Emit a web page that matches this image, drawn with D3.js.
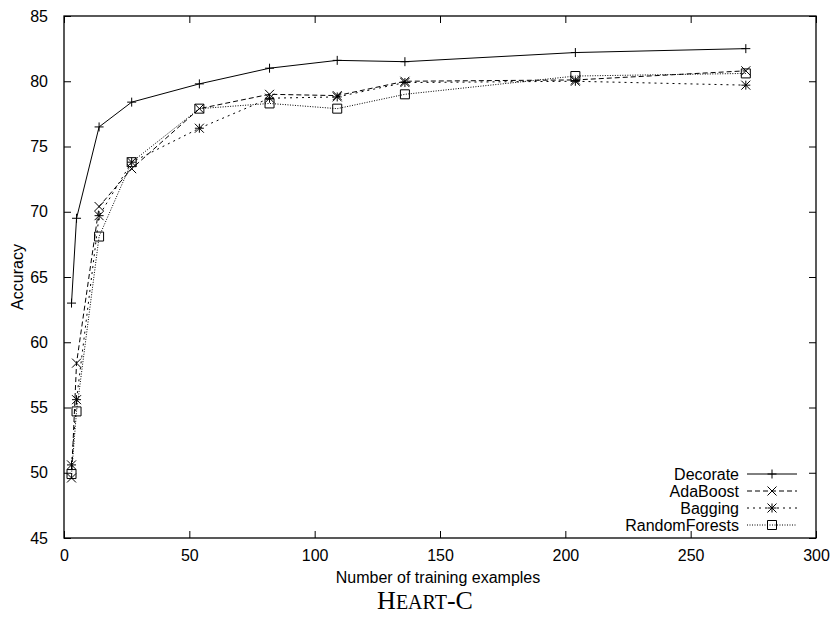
<!DOCTYPE html>
<html><head><meta charset="utf-8">
<script src="https://cdn.jsdelivr.net/npm/d3@7"></script>
<style>body{margin:0;background:#fff}svg{display:block}</style>
</head><body>
<svg id="c" width="836" height="620"></svg>
<script>
const trainingSizes = [3,5,14,27,54,82,109,136,204,272];
const decorate     = [63.0,69.5,76.5,78.4,79.8,81.0,81.6,81.5,82.2,82.5];
const adaBoost     = [49.6,58.4,70.4,73.3,77.9,79.0,78.9,80.0,80.1,80.8];
const bagging      = [50.6,55.6,69.7,73.8,76.4,78.7,78.8,79.9,80.0,79.7];
const randomForests= [49.9,54.7,68.1,73.8,77.9,78.3,77.9,79.0,80.4,80.6];
const seriesNames  = ["Decorate","AdaBoost","Bagging","RandomForests"];
const xTicks = [0,50,100,150,200,250,300];
const yTicks = [45,50,55,60,65,70,75,80,85];

const svg = d3.select("#c");
const L=64,R=816,T=16,B=538;
const x = d3.scaleLinear().domain([0,300]).range([L,R]);
const y = d3.scaleLinear().domain([45,85]).range([B,T]);
const font = "'Liberation Sans', Arial, Helvetica, sans-serif";

// axes with inward ticks, mirrored
const tl = 7;
svg.append("g").attr("transform",`translate(0,${B})`)
  .call(d3.axisBottom(x).tickValues(xTicks).tickSizeInner(-tl).tickSizeOuter(0).tickPadding(12))
  .call(g=>{g.select(".domain").remove();g.selectAll("text").attr("font-family",font).attr("font-size",16).attr("fill","#000");});
svg.append("g").attr("transform",`translate(0,${T})`)
  .call(d3.axisTop(x).tickValues(xTicks).tickSizeInner(-tl).tickSizeOuter(0).tickFormat(""))
  .call(g=>g.select(".domain").remove());
svg.append("g").attr("transform",`translate(${L},0)`)
  .call(d3.axisLeft(y).tickValues(yTicks).tickSizeInner(-tl).tickSizeOuter(0).tickPadding(16))
  .call(g=>{g.select(".domain").remove();g.selectAll("text").attr("font-family",font).attr("font-size",16).attr("fill","#000");});
svg.append("g").attr("transform",`translate(${R},0)`)
  .call(d3.axisRight(y).tickValues(yTicks).tickSizeInner(-tl).tickSizeOuter(0).tickFormat(""))
  .call(g=>g.select(".domain").remove());
svg.selectAll(".tick line").attr("stroke","#000").attr("stroke-width",1);
svg.append("rect").attr("x",L).attr("y",T).attr("width",R-L).attr("height",B-T)
  .attr("fill","none").attr("stroke","#000").attr("stroke-width",1.3);

// labels
svg.append("text").attr("x",(L+R)/2-2).attr("y",583).attr("text-anchor","middle")
  .attr("font-family",font).attr("font-size",16).text("Number of training examples");
svg.append("text").attr("transform",`translate(23,${(T+B)/2}) rotate(-90)`).attr("text-anchor","middle")
  .attr("font-family",font).attr("font-size",16).text("Accuracy");
const title = svg.append("text").attr("x",425).attr("y",609).attr("text-anchor","middle")
  .attr("font-family","'Liberation Serif', 'Times New Roman', serif").attr("font-size",26);
title.append("tspan").text("H");
title.append("tspan").attr("font-size",20).text("EART");
title.append("tspan").text("-C");

const data = [decorate, adaBoost, bagging, randomForests];
const dashes = [null, "5,3", "2,4", "1,1.5"];
const markers = ["plus","cross","star","square"];

function drawMarker(g, type, cx, cy){
  const s=4.5;
  const p = d3.path();
  if(type==="plus"||type==="star"){p.moveTo(cx-s,cy);p.lineTo(cx+s,cy);p.moveTo(cx,cy-s);p.lineTo(cx,cy+s);}
  if(type==="cross"||type==="star"){p.moveTo(cx-s,cy-s);p.lineTo(cx+s,cy+s);p.moveTo(cx-s,cy+s);p.lineTo(cx+s,cy-s);}
  if(type==="square"){p.rect(cx-4.5,cy-4.5,9,9);}
  g.append("path").attr("d",p.toString()).attr("fill","none").attr("stroke","#000").attr("stroke-width",1);
}

const line = d3.line().x((d,i)=>x(trainingSizes[i])).y(d=>y(d));
data.forEach((vals,k)=>{
  const g = svg.append("g");
  g.append("path").datum(vals).attr("d",line).attr("fill","none").attr("stroke","#000")
    .attr("stroke-width",1).attr("stroke-dasharray",dashes[k]);
  vals.forEach((v,i)=>drawMarker(g,markers[k],x(trainingSizes[i]),y(v)));
});

// legend
const legY = [474,491,508,525];
seriesNames.forEach((n,k)=>{
  svg.append("text").attr("x",739).attr("y",legY[k]).attr("dy","0.35em").attr("text-anchor","end")
    .attr("font-family",font).attr("font-size",16).text(n);
  const g = svg.append("g");
  g.append("line").attr("x1",747).attr("x2",797).attr("y1",legY[k]).attr("y2",legY[k])
    .attr("stroke","#000").attr("stroke-width",1).attr("stroke-dasharray",dashes[k]);
  drawMarker(g,markers[k],772,legY[k]);
});
</script>
</body></html>
